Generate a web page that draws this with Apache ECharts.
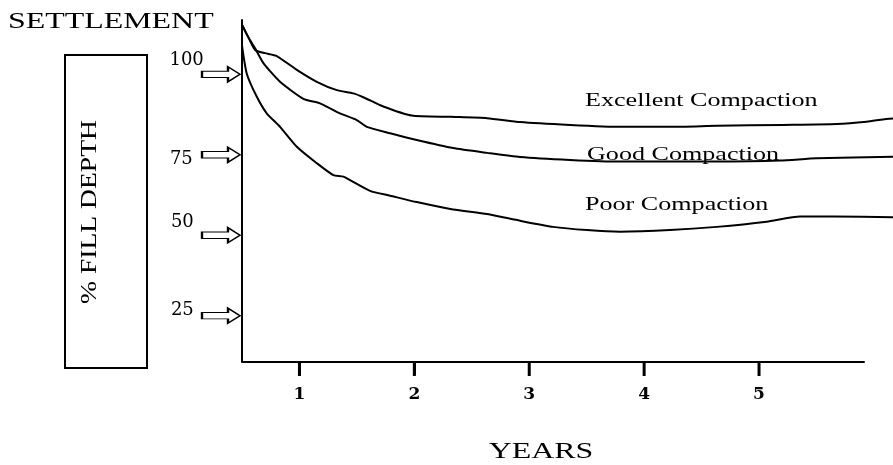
<!DOCTYPE html>
<html>
<head>
<meta charset="utf-8">
<title>Settlement</title>
<script src="https://cdn.jsdelivr.net/npm/echarts@6/dist/echarts.min.js"></script>
<style>
  html, body { margin: 0; padding: 0; background: #fff; }
  #chart { width: 893px; height: 465px; }
</style>
</head>
<body>
<div id="chart"></div>
<script>
// tick values
var yearTicks = [1, 2, 3, 4, 5]
var depthTicks = [100, 75, 50, 25]

// curves: [years, % fill depth]
var excellent = [[0.50,115.4],[0.56,111.2],[0.614,107.6],[0.70,106.6],[0.802,105.7],[0.977,101.4],[1.151,97.7],[1.325,95.1],[1.469,94.1],[1.556,92.9],[1.730,90.0],[1.977,87.2],[2.311,86.8],[2.633,86.4],[2.920,85.2],[3.355,84.3],[3.790,83.7],[4.225,83.7],[4.632,84.0],[5.209,84.3],[5.676,84.6],[5.937,85.3],[6.079,86.0],[6.166,86.3]]
var good = [[0.50,115.4],[0.56,111.2],[0.614,108.1],[0.686,103.5],[0.831,97.7],[1.034,92.4],[1.179,91.0],[1.353,87.9],[1.499,85.8],[1.586,83.7],[1.789,81.7],[2.021,79.6],[2.337,77.1],[2.633,75.6],[2.920,74.3],[3.355,73.4],[3.790,72.9],[4.225,72.9],[4.632,72.9],[5.183,73.2],[5.502,73.9],[6.166,74.4]]
var poor = [[0.50,109.0],[0.541,100.3],[0.628,93.1],[0.715,87.9],[0.831,83.7],[0.977,77.5],[1.151,72.4],[1.295,68.7],[1.382,68.2],[1.614,63.8],[1.789,62.3],[2.021,60.3],[2.337,58.0],[2.633,56.6],[2.920,54.5],[3.207,52.6],[3.503,51.6],[3.790,51.1],[4.225,51.6],[4.632,52.6],[5.067,54.2],[5.357,55.8],[5.644,55.8],[6.166,55.6]]

// bottom axis is drawn shorter than the curves
var xStart = 0.5
var xAxisEnd = 5.92
var yBase = 10.6

var serif = 'Liberation Serif'

// where each number sits next to its arrow
var labelNudge = { 100: [9, -14], 75: [-2, 5], 50: [-1, -13], 25: [-1, -5] }

var myChart = echarts.init(document.getElementById('chart'))

function curve(name, data, extra) {
  var s = {
    name: name,
    type: 'line',
    data: data,
    symbol: 'none',
    smooth: 0.2,
    silent: true,
    lineStyle: { color: '#000', width: 2 }
  }
  return Object.assign(s, extra || {})
}

function word(text, x, y, size, stretch, align, rot) {
  return {
    type: 'text',
    x: x, y: y,
    scaleX: stretch,
    rotation: rot || 0,
    silent: true,
    style: {
      text: text, x: 0, y: 0,
      fill: '#000',
      font: size + 'px "' + serif + '"',
      textAlign: align || 'left',
      textVerticalAlign: 'middle'
    }
  }
}

var arrows = depthTicks.map(function (v) {
  return {
    name: String(v),
    coord: [xStart, v],
    label: { offset: labelNudge[v] }
  }
})

var graphics = [
  word('SETTLEMENT', 8, 22, 24, 1.33),
  word('Excellent Compaction', 585, 101, 18, 1.45),
  word('Good Compaction', 587, 155, 18, 1.45),
  word('Poor Compaction', 585, 205, 18, 1.45),
  word('YEARS', 541, 452, 24, 1.33, 'center'),
  word('% FILL DEPTH', 90, 212, 24, 1.15, 'center', Math.PI / 2),
  {
    type: 'rect',
    silent: true,
    shape: { x: 65, y: 55, width: 82, height: 313 },
    style: { fill: 'none', stroke: '#000', lineWidth: 2 }
  }
]

var options = {
  animation: false,
  backgroundColor: '#fff',
  grid: { left: 242, top: 20, right: 0, bottom: 103 },
  xAxis: {
    type: 'value',
    min: xStart,
    max: 6.166,
    axisLine: { show: false },
    axisTick: {
      show: true,
      customValues: yearTicks,
      length: 13,
      lineStyle: { color: '#000', width: 2 }
    },
    axisLabel: {
      customValues: yearTicks,
      margin: 24,
      color: '#000',
      fontFamily: 'DejaVu Serif',
      fontWeight: 'bold',
      fontSize: 17
    },
    splitLine: { show: false }
  },
  yAxis: {
    type: 'value',
    min: yBase,
    max: 116.9,
    axisLine: { show: true, lineStyle: { color: '#000', width: 2 } },
    axisTick: { show: false },
    axisLabel: { show: false },
    splitLine: { show: false }
  },
  series: [
    curve('Excellent Compaction', excellent, {
      markPoint: {
        silent: true,
        symbol: 'path://M0 4 L26 4 L26 0 L38 7 L26 14 L26 10 L0 10 Z',
        symbolSize: [38, 15],
        symbolOffset: [-21, 0],
        itemStyle: { color: '#fff', borderColor: '#000', borderWidth: 1.5 },
        label: {
          show: true,
          position: 'left',
          distance: 6,
          formatter: function (p) { return p.name },
          color: '#000',
          fontFamily: 'DejaVu Serif',
          fontSize: 18
        },
        data: arrows
      },
      markLine: {
        silent: true,
        symbol: 'none',
        label: { show: false },
        lineStyle: { color: '#000', width: 2, type: 'solid' },
        data: [[{ coord: [xStart, yBase] }, { coord: [xAxisEnd, yBase] }]]
      }
    }),
    curve('Good Compaction', good),
    curve('Poor Compaction', poor)
  ],
  graphic: graphics
}

myChart.setOption(options)

// tick marks under the years axis, placed through the axis scale
yearTicks.forEach(function (v) {
  var p = myChart.convertToPixel({ gridIndex: 0 }, [v, yBase])
  graphics.push({
    type: 'rect',
    silent: true,
    z: 100,
    shape: { x: p[0] - 1.5, y: p[1], width: 3, height: 14 },
    style: { fill: '#000' }
  })
})
myChart.setOption({ graphic: graphics })
</script>
</body>
</html>
